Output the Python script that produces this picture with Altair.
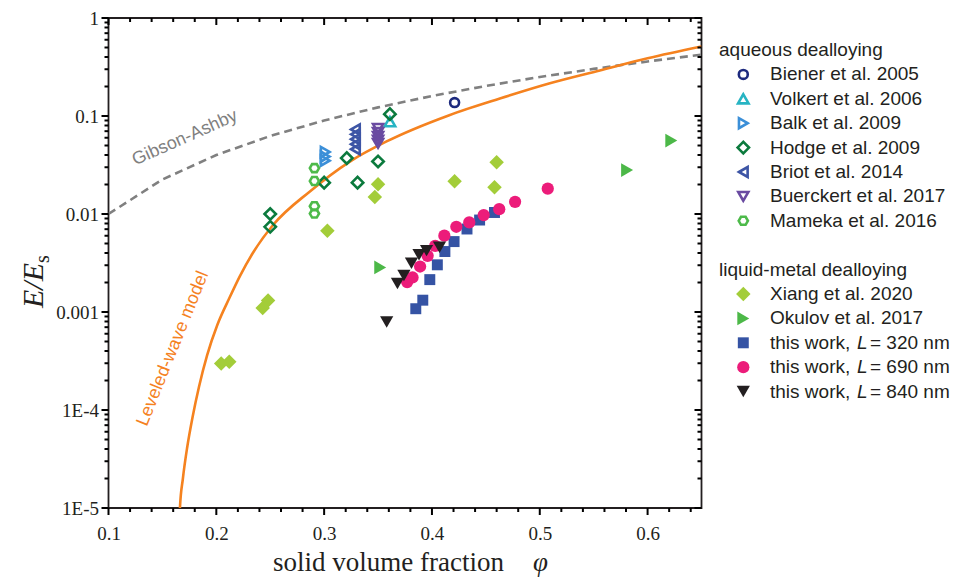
import altair as alt
import pandas as pd

# ------------------------------------------------------------------ data
biener_phi = [0.421]
biener_E = [0.137]
volkert_phi = [0.361]
volkert_E = [0.0875]
balk_phi = [0.301, 0.301, 0.301]
balk_E = [0.0430, 0.0385, 0.0350]
hodge_phi = [0.361, 0.321, 0.350, 0.300, 0.331, 0.250, 0.250]
hodge_E = [0.1045, 0.0372, 0.0344, 0.0209, 0.0209, 0.0100, 0.0074]
briot_phi = [0.329, 0.329, 0.329, 0.329, 0.329]
briot_E = [0.0730, 0.0650, 0.0580, 0.0515, 0.0458]
buerckert_phi = [0.350, 0.350, 0.350, 0.350, 0.350]
buerckert_E = [0.0748, 0.0682, 0.0621, 0.0566, 0.0527]
mameka_phi = [0.291, 0.291, 0.291, 0.291]
mameka_E = [0.0294, 0.0217, 0.0120, 0.0101]

xiang_phi = [0.460, 0.421, 0.458, 0.350, 0.347, 0.303, 0.248, 0.243, 0.212, 0.2045]
xiang_E = [0.0338, 0.0216, 0.0187, 0.0201, 0.0149, 0.00676, 0.00131, 0.00110, 0.00031, 0.000298]
okulov_phi = [0.622, 0.581, 0.352]
okulov_E = [0.0561, 0.0281, 0.00285]
w320_phi = [0.385, 0.3915, 0.398, 0.405, 0.412, 0.4205, 0.4325, 0.4442, 0.458]
w320_E = [0.00108, 0.00132, 0.00214, 0.00303, 0.00414, 0.00523, 0.00703, 0.00868, 0.01036]
w690_phi = [0.377, 0.382, 0.389, 0.396, 0.403, 0.4115, 0.4226, 0.4346, 0.448, 0.4624, 0.4771, 0.5074]
w690_E = [0.00202, 0.00225, 0.00291, 0.00374, 0.00472, 0.00601, 0.00741, 0.0082, 0.00975, 0.0112, 0.0133, 0.01815]
w840_phi = [0.358, 0.368, 0.374, 0.381, 0.388, 0.395, 0.407]
w840_E = [0.00079, 0.00195, 0.00236, 0.00315, 0.00383, 0.00423, 0.00457]

# model curves
gibson_phi = [0.10, 0.15, 0.20, 0.25, 0.30, 0.35, 0.40, 0.45, 0.50, 0.55, 0.60, 0.65]
gibson_E = [0.0100, 0.0225, 0.0400, 0.0625, 0.0900, 0.1225, 0.160, 0.2025, 0.250, 0.3025, 0.360, 0.4225]
leveled_phi = [0.1660, 0.1663, 0.1690, 0.1730, 0.1780, 0.1840, 0.1915, 0.2010, 0.2120, 0.2220,
               0.2343, 0.2528, 0.2868, 0.3239, 0.3579, 0.4161, 0.4630, 0.5094, 0.5557, 0.6000, 0.6500]
leveled_E = [7.9e-6, 1.02e-5, 2.0e-5, 4.17e-5, 8.5e-5, 1.74e-4, 3.63e-4, 7.41e-4, 1.38e-3, 2.34e-3,
             4.07e-3, 7.76e-3, 0.0170, 0.0343, 0.0550, 0.102, 0.151, 0.216, 0.292, 0.389, 0.513]

# annotation anchors (data coordinates)
note_text = ["Gibson-Ashby", "Leveled-wave model"]
note_phi = [0.1709, 0.1598]
note_E = [0.0596, 4.23e-4]

# legend groups
group_titles = ["aqueous dealloying", "liquid-metal dealloying"]
aqueous_names = ["Biener et al. 2005", "Volkert et al. 2006", "Balk et al. 2009", "Hodge et al. 2009",
                 "Briot et al. 2014", "Buerckert et al. 2017", "Mameka et al. 2016"]
liquid_names = ["Xiang et al. 2020", "Okulov et al. 2017",
                "this work, L = 320 nm", "this work, L = 690 nm", "this work, L = 840 nm"]

X_DOMAIN = [0.1, 0.65]
Y_DOMAIN = [1e-5, 1.0]
x_major = [0.1, 0.2, 0.3, 0.4, 0.5, 0.6]
x_minor = [round(0.1 + 0.02 * i, 2) for i in range(28) if i % 5 != 0]
y_major = [1e-5, 1e-4, 1e-3, 1e-2, 1e-1, 1.0]
y_minor = [k * 10.0 ** e for e in range(-5, 0) for k in range(2, 10)]

# ------------------------------------------------------------------ styles
HEX = "M-1,0L-0.5,-0.866L0.5,-0.866L1,0L0.5,0.866L-0.5,0.866Z"
series_data = {
    "Biener et al. 2005": (biener_phi, biener_E),
    "Volkert et al. 2006": (volkert_phi, volkert_E),
    "Balk et al. 2009": (balk_phi, balk_E),
    "Hodge et al. 2009": (hodge_phi, hodge_E),
    "Briot et al. 2014": (briot_phi, briot_E),
    "Buerckert et al. 2017": (buerckert_phi, buerckert_E),
    "Mameka et al. 2016": (mameka_phi, mameka_E),
    "Xiang et al. 2020": (xiang_phi, xiang_E),
    "Okulov et al. 2017": (okulov_phi, okulov_E),
    "this work, L = 320 nm": (w320_phi, w320_E),
    "this work, L = 690 nm": (w690_phi, w690_E),
    "this work, L = 840 nm": (w840_phi, w840_E),
}
styles = {
    "Biener et al. 2005": dict(shape="circle", color="#1d2a7e", filled=False, size=80),
    "Volkert et al. 2006": dict(shape="triangle-up", color="#27b4c3", filled=False, size=110),
    "Balk et al. 2009": dict(shape="triangle-right", color="#3b8fd8", filled=False, size=100),
    "Hodge et al. 2009": dict(shape="diamond", color="#0b7a3d", filled=False, size=130),
    "Briot et al. 2014": dict(shape="triangle-left", color="#3d55a5", filled=False, size=100),
    "Buerckert et al. 2017": dict(shape="triangle-down", color="#6a4ba1", filled=False, size=100),
    "Mameka et al. 2016": dict(shape=HEX, color="#4dba4a", filled=False, size=85),
    "Xiang et al. 2020": dict(shape="diamond", color="#a3cd39", filled=True, size=210),
    "Okulov et al. 2017": dict(shape="triangle-right", color="#4cb848", filled=True, size=190),
    "this work, L = 320 nm": dict(shape="square", color="#3553a4", filled=True, size=120),
    "this work, L = 690 nm": dict(shape="circle", color="#ec1c7a", filled=True, size=150),
    "this work, L = 840 nm": dict(shape="triangle-down", color="#231f20", filled=True, size=175),
}

W, H = 593, 490
XS = alt.Scale(domain=X_DOMAIN, nice=False, zero=False)
YS = alt.Scale(type="log", domain=Y_DOMAIN, nice=False)
INK = "#231f20"
SERIF = "Liberation Serif"
SANS = "Liberation Sans"


def point_mark(st):
    kw = dict(shape=st["shape"], size=st["size"], filled=st["filled"], color=st["color"], opacity=1)
    if not st["filled"]:
        kw["strokeWidth"] = 2.6
    return kw


def enc(xaxis=None, yaxis=None):
    return dict(x=alt.X("phi:Q", scale=XS, axis=xaxis), y=alt.Y("E:Q", scale=YS, axis=yaxis))


gib_df = pd.DataFrame({"phi": gibson_phi, "E": gibson_E})
lev_df = pd.DataFrame({"phi": leveled_phi, "E": leveled_E})

layers = []

# tick labels (axes attached to an invisible copy of the Gibson curve)
lab_common = dict(domain=False, grid=False, title=None, ticks=False, labelFlush=False, labelOverlap=False,
                  labelFont=SERIF, labelFontSize=19, labelColor=INK)
ax_x = alt.Axis(orient="bottom", values=x_major, format=".1f", labelPadding=16, **lab_common)
ax_y = alt.Axis(orient="left", values=y_major, labelPadding=10,
                labelExpr="datum.value < 0.001 ? '1E' + round(log(datum.value)/LN10) : format(datum.value, '~g')",
                **lab_common)
layers.append(alt.Chart(gib_df).mark_line(opacity=0).encode(**enc(ax_x, ax_y)))

# model curves
layers.append(alt.Chart(gib_df).mark_line(color="#808080", strokeWidth=2.6, strokeDash=[8, 5], clip=True)
              .encode(**enc()))
layers.append(alt.Chart(lev_df).mark_line(color="#f5821f", strokeWidth=2.6, clip=True, interpolate="monotone")
              .encode(**enc()))

# tick marks (small filled rects): bottom/left point outward, top/right point inward
TK = dict(color="#000000", thickness=2, opacity=1)
for vals, ln in [(x_major, 7), (x_minor, 4)]:
    for yedge in (Y_DOMAIN[0], Y_DOMAIN[1]):
        df = pd.DataFrame({"phi": vals, "E": [yedge] * len(vals)})
        layers.append(alt.Chart(df).mark_tick(orient="vertical", size=ln, yOffset=ln / 2, **TK)
                      .encode(**enc()))
for vals, ln in [(y_major, 7), (y_minor, 4)]:
    for xedge in (X_DOMAIN[0], X_DOMAIN[1]):
        df = pd.DataFrame({"phi": [xedge] * len(vals), "E": vals})
        layers.append(alt.Chart(df).mark_tick(orient="horizontal", size=ln, xOffset=-ln / 2, **TK)
                      .encode(**enc()))

# curve annotations
note_df = pd.DataFrame({"t": note_text, "phi": note_phi, "E": note_E})
layers.append(alt.Chart(note_df.iloc[[0]]).mark_text(font=SANS, fontSize=18, color="#808080", angle=336,
                                                     align="center", baseline="middle")
              .encode(text="t:N", **enc()))
layers.append(alt.Chart(note_df.iloc[[1]]).mark_text(font=SANS, fontSize=18, color="#f5821f", angle=292,
                                                     align="center", baseline="middle")
              .encode(text="t:N", **enc()))

# data series
for name, (px, py) in series_data.items():
    df = pd.DataFrame({"phi": px, "E": py})
    layers.append(alt.Chart(df).mark_point(**point_mark(styles[name])).encode(**enc()))

one = pd.DataFrame({"k": [0]})


def txt(s, x, y, **kw):
    base = dict(font=SANS, fontSize=19, color=INK, align="left", baseline="middle")
    base.update(kw)
    return alt.Chart(one).mark_text(text=s, **base).encode(x=alt.value(x), y=alt.value(y))


# axis titles
layers.append(txt("E/E", -66, 290, font=SERIF, fontSize=30, fontStyle="italic", angle=270,
                  baseline="alphabetic"))
layers.append(txt("s", -66, 290, font=SERIF, fontSize=20, angle=270, baseline="alphabetic", dx=45, dy=6))
layers.append(txt("solid volume fraction", 164.5, 553, font=SERIF, fontSize=27, baseline="alphabetic"))
layers.append(txt("\u03c6", 424.5, 553, font=SERIF, fontSize=27, fontStyle="italic", baseline="alphabetic"))

# legend
ROW0, ROWH = 32, 24.4
HEAD_X, MARK_X, TEXT_X = 610.5, 634.8, 661.5
layers.append(txt(group_titles[0], HEAD_X, ROW0))
layers.append(txt(group_titles[1], HEAD_X, ROW0 + 9 * ROWH))
for r, name in list(zip(range(1, 8), aqueous_names)) + list(zip(range(10, 15), liquid_names)):
    yy = ROW0 + r * ROWH
    layers.append(alt.Chart(one).mark_point(**point_mark(styles[name]))
                  .encode(x=alt.value(MARK_X), y=alt.value(yy)))
    if name.startswith("this work"):
        lv = name.split("= ")[1].split(" ")[0]
        layers.append(txt("this work,", TEXT_X, yy))
        layers.append(txt("L", TEXT_X + 87, yy, fontStyle="italic"))
        layers.append(txt("= " + lv + " nm", TEXT_X + 100, yy))
    else:
        layers.append(txt(name, TEXT_X, yy))

chart = (alt.layer(*layers)
         .resolve_axis(x="independent", y="independent")
         .properties(width=W, height=H,
                     autosize=alt.AutoSizeParams(type="none"),
                     padding={"left": 100.5, "top": 10, "right": 248.5, "bottom": 72})
         .configure_view(stroke=INK, strokeWidth=1.8))

chart.save("out.html", embed_options={"renderer": "svg", "actions": False})
